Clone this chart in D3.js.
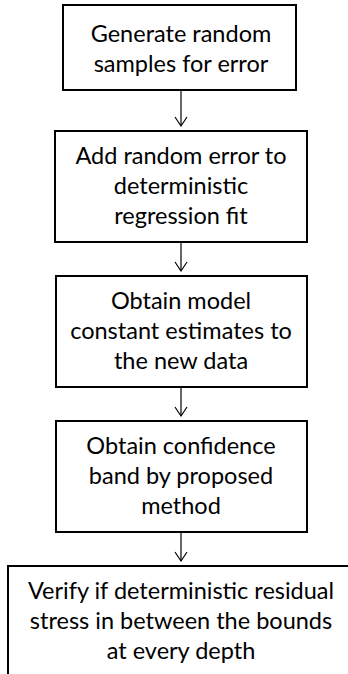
<!DOCTYPE html>
<html lang="en">
<head>
<meta charset="UTF-8">
<title>Flowchart</title>
<style>
  body { margin: 0; background: #fff; }
  text { font-family: 'Lato', sans-serif; font-size: 23.5px; fill: #000; }
  .box { fill: #fff; stroke: #000; stroke-width: 2px; }
  .arrow { stroke: #000; stroke-width: 1.2px; fill: none; }
</style>
<script src="https://d3js.org/d3.v7.min.js"></script>
</head>
<body>
<script>
var width = 348, height = 674;

// steps of the procedure, one entry per box, split into text lines
var steps = [
  ["Generate random", "samples for error"],
  ["Add random error to", "deterministic", "regression fit"],
  ["Obtain model", "constant estimates to", "the new data"],
  ["Obtain confidence", "band by proposed", "method"],
  ["Verify if deterministic residual", "stress in between the bounds", "at every depth"]
];

var lineH = 30, padTop = 33, padBot = 18, gap = 34;
var boxX = [[63, 296], [55, 307], [56, 307], [56, 307], [8, 360]];
var cx = 181;

var svg = d3.select("body").append("svg").attr("width", width).attr("height", height);

var y = 5;
var layout = steps.map(function(lines, i) {
  var pt = i === 0 ? 37 : padTop;
  var h = pt + (lines.length - 1) * lineH + padBot;
  if (i === steps.length - 1) h = 200;
  var o = { lines: lines, x0: boxX[i][0], x1: boxX[i][1], y: y, h: h, pt: pt };
  y += h + gap + (i === 0 ? 7 : 0);
  return o;
});

var g = svg.selectAll("g.step").data(layout).enter().append("g").attr("class", "step");
g.append("rect").attr("class", "box")
  .attr("x", function(d) { return d.x0; })
  .attr("y", function(d) { return d.y; })
  .attr("width", function(d) { return d.x1 - d.x0; })
  .attr("height", function(d) { return d.h; });

g.each(function(d) {
  d3.select(this).selectAll("text").data(d.lines).enter().append("text")
    .attr("x", cx)
    .attr("y", function(l, j) { return d.y + d.pt + j * lineH; })
    .attr("text-anchor", "middle")
    .text(function(l) { return l; });
});

// arrows between boxes
var links = d3.pairs(layout);
var ag = svg.selectAll("g.arrow").data(links).enter().append("g");
ag.append("line").attr("class", "arrow")
  .attr("x1", cx).attr("x2", cx)
  .attr("y1", function(p) { return p[0].y + p[0].h; })
  .attr("y2", function(p) { return p[1].y - 5; });
ag.append("path").attr("class", "arrow")
  .attr("d", function(p) {
    var t = p[1].y - 5;
    return "M" + (cx - 6) + "," + (t - 9) + "L" + cx + "," + t + "L" + (cx + 6) + "," + (t - 9);
  });
</script>
</body>
</html>
